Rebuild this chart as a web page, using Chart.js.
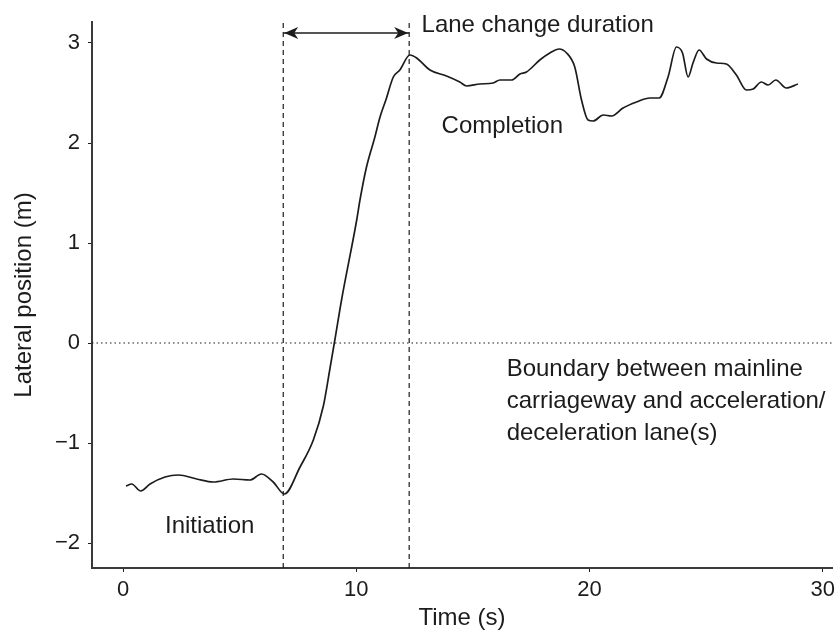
<!DOCTYPE html>
<html>
<head>
<meta charset="utf-8">
<title>Lateral position during lane change</title>
<script src="https://cdn.jsdelivr.net/npm/chart.js@4.4.1/dist/chart.umd.min.js"></script>
<style>
  html, body { margin: 0; padding: 0; background: #fff; }
  #wrap { width: 840px; height: 633px; }
</style>
</head>
<body>
<div id="wrap"><canvas id="laneChart" width="840" height="633"></canvas></div>
<script>
// Time (s) and lateral position (m) of the vehicle
const timeS = [
  0.13, 0.37, 0.76, 1.16, 1.8, 2.37, 3.16, 3.87, 4.73, 5.44, 5.94, 6.44, 6.92,
  7.59, 8.16, 8.59, 8.87, 9.09, 9.37, 10.02, 10.16, 10.44, 10.8, 11.02, 11.27,
  11.59, 11.87, 12.3, 12.59, 13.16, 13.87, 14.44, 14.73, 15.3, 15.87,
  16.16, 16.66, 17.02, 17.3, 17.87, 18.3, 18.7, 19.02, 19.37, 19.66, 19.94,
  20.16, 20.59, 20.95, 21.44, 22.02, 22.59, 22.99, 23.37, 23.73, 23.99, 24.23,
  24.44, 24.7, 25.02, 25.45, 25.87, 26.3, 26.73, 27.02, 27.37, 27.66, 27.99,
  28.44, 28.94
];
const lateralM = [
  -1.43, -1.41, -1.48, -1.41, -1.34, -1.32, -1.36, -1.39, -1.36, -1.37, -1.31, -1.39, -1.51,
  -1.24, -0.97, -0.63, -0.26, 0.04, 0.43, 1.23, 1.43, 1.76, 2.06, 2.26, 2.43,
  2.66, 2.73, 2.88, 2.85, 2.73, 2.67, 2.61, 2.57, 2.59, 2.6,
  2.63, 2.63, 2.69, 2.71, 2.83, 2.9, 2.94, 2.9, 2.76, 2.43, 2.23,
  2.22, 2.28, 2.27, 2.35, 2.41, 2.45, 2.45, 2.66, 2.96, 2.9, 2.66,
  2.8, 2.93, 2.84, 2.8, 2.79, 2.68, 2.53, 2.54, 2.61, 2.58, 2.63,
  2.55, 2.59
];

// start and end of the manoeuvre (s)
const laneChangeStart = 6.87;
const laneChangeEnd = 12.27;
const boundaryY = 0;
const arrowY = 3.1;

const xTicks = [0, 10, 20, 30];
const yTicks = [-2, -1, 0, 1, 2, 3];
const xRange = [-1.33, 30.4];
const yRange = [-2.25, 3.21];

const FONT = "'Liberation Sans', Helvetica, Arial, sans-serif";
const INK = "#1c1c1c";

// text labels, anchored at their left baseline in data units
const notes = [
  { text: "Lane change duration", x: 12.8, y: 3.11 },
  { text: "Completion", x: 13.66, y: 2.1 },
  { text: "Initiation", x: 1.8, y: -1.9 },
  { text: "Boundary between mainline", x: 16.45, y: -0.33 },
  { text: "carriageway and acceleration/", x: 16.45, y: -0.65 },
  { text: "deceleration lane(s)", x: 16.45, y: -0.97 }
];

function signed(v) {
  return v < 0 ? "\u2212" + Math.abs(v) : String(v);
}

// arrowheads + free text
const notesPlugin = {
  id: "notes",
  afterDatasetsDraw(chart) {
    const { ctx, scales } = chart;
    const xs = scales.x, ys = scales.y;
    ctx.save();

    // double arrow between the two dashed lines
    const y = ys.getPixelForValue(arrowY);
    const x1 = xs.getPixelForValue(laneChangeStart);
    const x2 = xs.getPixelForValue(laneChangeEnd);
    ctx.fillStyle = INK;
    [[x1, 1], [x2, -1]].forEach(([x, dir]) => {
      ctx.beginPath();
      ctx.moveTo(x + 1 * dir, y);
      ctx.lineTo(x + 15 * dir, y - 6);
      ctx.lineTo(x + 11 * dir, y);
      ctx.lineTo(x + 15 * dir, y + 6);
      ctx.closePath();
      ctx.fill();
    });

    ctx.font = "24px " + FONT;
    ctx.textBaseline = "alphabetic";
    ctx.textAlign = "left";
    notes.forEach((n) => {
      ctx.fillText(n.text, xs.getPixelForValue(n.x), ys.getPixelForValue(n.y));
    });
    ctx.restore();
  }
};

const guide = (pts, dash, width) => ({
  data: pts,
  showLine: true,
  borderColor: INK,
  borderWidth: width || 1.2,
  borderDash: dash,
  pointRadius: 0,
  tension: 0
});

new Chart(document.getElementById("laneChart"), {
  type: "scatter",
  data: {
    datasets: [
      {
        label: "Lateral position",
        data: timeS.map((t, i) => ({ x: t, y: lateralM[i] })),
        showLine: true,
        borderColor: INK,
        borderWidth: 1.7,
        pointRadius: 0,
        cubicInterpolationMode: "monotone"
      },
      guide([{ x: laneChangeStart, y: yRange[0] }, { x: laneChangeStart, y: yRange[1] }], [5, 4]),
      guide([{ x: laneChangeEnd, y: yRange[0] }, { x: laneChangeEnd, y: yRange[1] }], [5, 4]),
      guide([{ x: xRange[0], y: boundaryY }, { x: xRange[1], y: boundaryY }], [1.5, 3]),
      guide([{ x: laneChangeStart, y: arrowY }, { x: laneChangeEnd, y: arrowY }], [], 1.6)
    ]
  },
  options: {
    responsive: false,
    animation: false,
    layout: { padding: { top: 22, right: 8, left: 0, bottom: 0 } },
    plugins: {
      legend: { display: false },
      tooltip: { enabled: false }
    },
    scales: {
      x: {
        type: "linear",
        min: xRange[0],
        max: xRange[1],
        afterBuildTicks: (s) => { s.ticks = xTicks.map((v) => ({ value: v })); },
        afterFit: (s) => { s.height = 65; s.paddingLeft = 0; s.paddingRight = 0; },
        grid: { drawOnChartArea: false, drawTicks: true, tickLength: 4, color: INK, lineWidth: 1 },
        border: { display: true, color: "#3a3a3a", width: 2 },
        ticks: { color: INK, padding: 5, font: { family: FONT, size: 22 }, callback: signed, maxRotation: 0 },
        title: { display: true, text: "Time (s)", color: INK, font: { family: FONT, size: 24 }, padding: { top: 0, bottom: 0 } }
      },
      y: {
        type: "linear",
        min: yRange[0],
        max: yRange[1],
        afterBuildTicks: (s) => { s.ticks = yTicks.map((v) => ({ value: v })); },
        afterFit: (s) => { s.width = 92; s.paddingTop = 0; s.paddingBottom = 0; },
        grid: { drawOnChartArea: false, drawTicks: true, tickLength: 4, color: INK, lineWidth: 1 },
        border: { display: true, color: "#3a3a3a", width: 2 },
        ticks: { color: INK, padding: 8, font: { family: FONT, size: 22 }, callback: signed },
        title: { display: true, text: "Lateral position (m)", color: INK, font: { family: FONT, size: 24 }, padding: { top: 10, bottom: 0 } }
      }
    }
  },
  plugins: [notesPlugin]
});
</script>
</body>
</html>
